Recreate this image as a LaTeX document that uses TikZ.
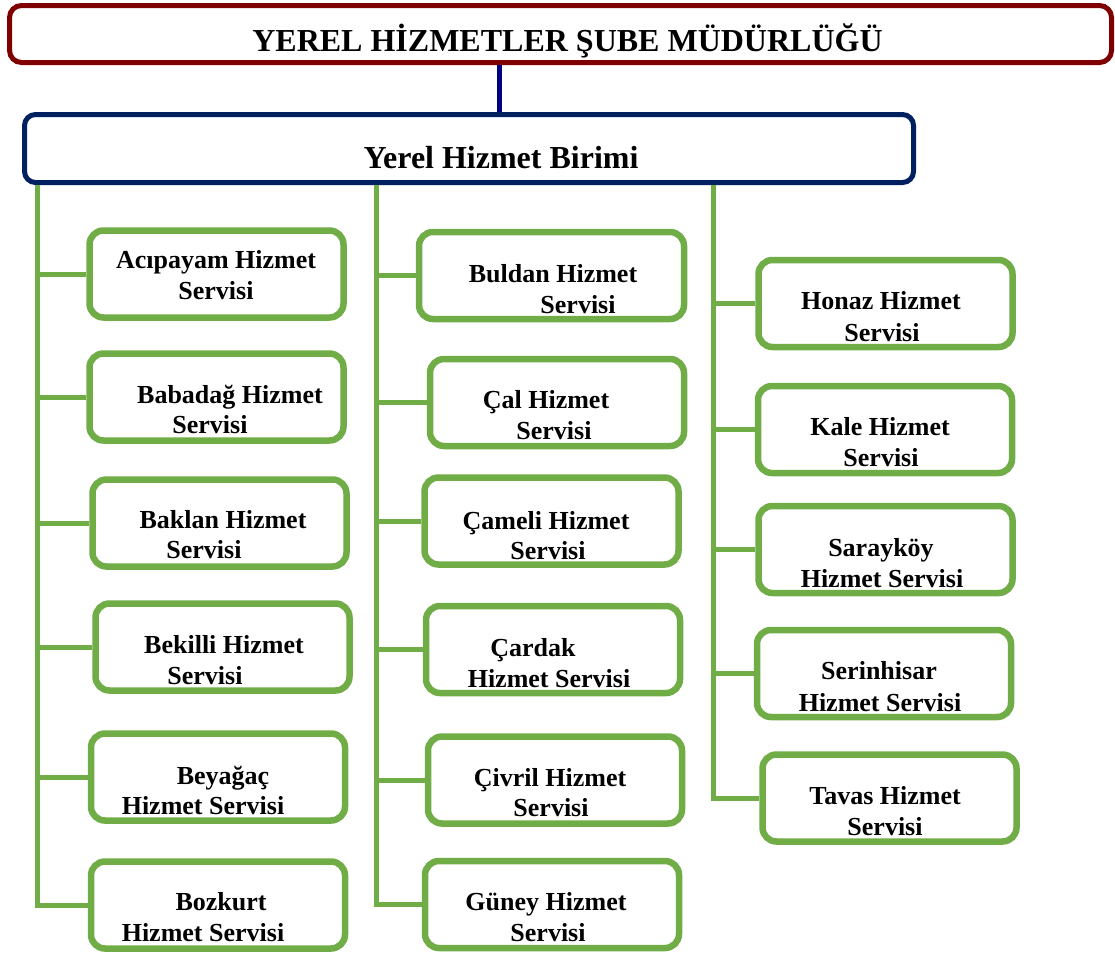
\documentclass[tikz,border=0pt]{standalone}
\usepackage{fontspec}
\setmainfont{Liberation Serif}
\definecolor{topred}{HTML}{7F0000}
\definecolor{boxnavy}{HTML}{002060}
\definecolor{linknavy}{HTML}{000080}
\definecolor{leafgreen}{HTML}{70AD47}
\begin{document}
\begin{tikzpicture}[x=1pt,y=-1pt,
  topbox/.style={draw=topred,line width=5pt,rounded corners=12pt,minimum width=1102pt,minimum height=57pt,inner sep=0pt},
  midbox/.style={draw=boxnavy,line width=5pt,rounded corners=11pt,minimum width=889pt,minimum height=68pt,inner sep=0pt},
  leaf/.style={draw=leafgreen,line width=6.5pt,rounded corners=14pt,minimum width=254pt,minimum height=87pt,inner sep=0pt},
  gline/.style={draw=leafgreen,line width=5pt},
  nline/.style={draw=linknavy,line width=5pt},
  big/.style={anchor=base,inner sep=0pt,font=\fontsize{32}{36}\selectfont\bfseries},
  txt/.style={anchor=base,inner sep=0pt,font=\fontsize{26}{31}\selectfont\bfseries}]
\useasboundingbox (0,0) rectangle (1115,953);
% top boxes
\node[topbox] (top) at (560.5,34) {};
\node[big] (toptxt) at (567.5,51) {YEREL HİZMETLER ŞUBE MÜDÜRLÜĞÜ};
\node[midbox] (unit) at (469,148.5) {};
\node[big] (unittxt) at (501,168) {Yerel Hizmet Birimi};
\coordinate (cx) at (499,0);
\draw[nline] (top.south -| cx) -- (unit.north -| cx);
% left column
\node[leaf] (a1) at (216.5,274) {};
\node[leaf] (a2) at (216.5,397) {};
\node[leaf] (a3) at (219.5,523) {};
\node[leaf] (a4) at (222.5,647) {};
\node[leaf] (a5) at (218,777) {};
\node[leaf] (a6) at (218,905) {};
\node[txt] (a1t) at (216,268) {Acıpayam Hizmet};
\node[txt] (a1s) at (216,299) {Servisi};
\node[txt] (a2t) at (230,403) {Babadağ Hizmet};
\node[txt] (a2s) at (210,433) {Servisi};
\node[txt] (a3t) at (223,528) {Baklan Hizmet};
\node[txt] (a3s) at (204,558) {Servisi};
\node[txt] (a4t) at (224,653) {Bekilli Hizmet};
\node[txt] (a4s) at (205,684) {Servisi};
\node[txt] (a5t) at (223,784) {Beyağaç};
\node[txt] (a5s) at (203,814) {Hizmet Servisi};
\node[txt] (a6t) at (221,910) {Bozkurt};
\node[txt] (a6s) at (203,941) {Hizmet Servisi};
% middle column
\node[leaf,minimum width=265pt] (b1) at (551.5,275.5) {};
\node[leaf] (b2) at (557,402.5) {};
\node[leaf] (b3) at (551.5,521) {};
\node[leaf] (b4) at (553,649.5) {};
\node[leaf] (b5) at (555,780) {};
\node[leaf] (b6) at (552,904.5) {};
\node[txt] (b1t) at (553,282) {Buldan Hizmet};
\node[txt] (b1s) at (578,313) {Servisi};
\node[txt] (b2t) at (546,408) {Çal Hizmet};
\node[txt] (b2s) at (554,439) {Servisi};
\node[txt] (b3t) at (546,529) {Çameli Hizmet};
\node[txt] (b3s) at (548,559) {Servisi};
\node[txt] (b4t) at (533,656) {Çardak};
\node[txt] (b4s) at (549,687) {Hizmet Servisi};
\node[txt] (b5t) at (550,786) {Çivril Hizmet};
\node[txt] (b5s) at (551,816) {Servisi};
\node[txt] (b6t) at (546,910) {Güney Hizmet};
\node[txt] (b6s) at (548,941) {Servisi};
% right column
\node[leaf] (c1) at (885.5,303.5) {};
\node[leaf] (c2) at (885,429.5) {};
\node[leaf] (c3) at (885.5,549.5) {};
\node[leaf] (c4) at (884,673.5) {};
\node[leaf] (c5) at (889.5,798) {};
\node[txt] (c1t) at (881,309) {Honaz Hizmet};
\node[txt] (c1s) at (882,341) {Servisi};
\node[txt] (c2t) at (880,435) {Kale Hizmet};
\node[txt] (c2s) at (881,466) {Servisi};
\node[txt] (c3t) at (881,556) {Sarayköy};
\node[txt] (c3s) at (882,587) {Hizmet Servisi};
\node[txt] (c4t) at (879,679) {Serinhisar};
\node[txt] (c4s) at (880,711) {Hizmet Servisi};
\node[txt] (c5t) at (885,804) {Tavas Hizmet};
\node[txt] (c5s) at (885,835) {Servisi};
% connectors
\coordinate (tl) at (37,0);
\coordinate (tm) at (376,0);
\coordinate (tr) at (713,0);
\draw[gline] (unit.south -| tl) |- (a6.west);
\draw[gline] (unit.south -| tm) |- (b6.west);
\draw[gline] (unit.south -| tr) |- (c5.west);
\foreach \n in {a1,a2,a3,a4,a5}{\draw[gline] (\n.west -| tl) -- (\n.west);}
\foreach \n in {b1,b2,b3,b4,b5}{\draw[gline] (\n.west -| tm) -- (\n.west);}
\foreach \n in {c1,c2,c3,c4}{\draw[gline] (\n.west -| tr) -- (\n.west);}
\end{tikzpicture}
\end{document}
